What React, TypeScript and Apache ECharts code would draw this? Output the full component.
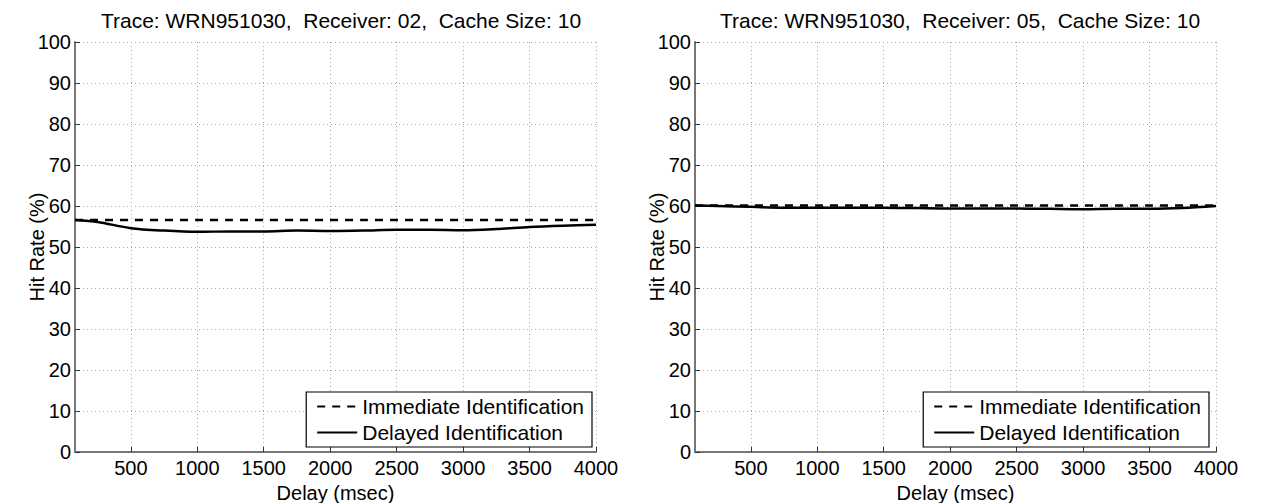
import React, { useEffect, useRef } from "react";
import * as echarts from "echarts";

const delays = [80, 250, 500, 750, 1000, 1250, 1500, 1750, 2000, 2250, 2500, 2750, 3000, 3250, 3500, 3750, 4000];
const immediate02 = [56.6, 56.6, 56.6, 56.6, 56.6, 56.6, 56.6, 56.6, 56.6, 56.6, 56.6, 56.6, 56.6, 56.6, 56.6, 56.6, 56.6];
const delayed02 = [56.6, 56.1, 54.6, 54.0, 53.7, 53.8, 53.8, 54.0, 53.9, 54.0, 54.2, 54.2, 54.1, 54.4, 54.9, 55.2, 55.4];
const immediate05 = [60.1, 60.1, 60.1, 60.1, 60.1, 60.1, 60.1, 60.1, 60.1, 60.1, 60.1, 60.1, 60.1, 60.1, 60.1, 60.1, 60.1];
const delayed05 = [60.1, 60.0, 59.8, 59.6, 59.6, 59.6, 59.6, 59.5, 59.4, 59.4, 59.4, 59.3, 59.2, 59.3, 59.3, 59.5, 60.0];
const titles = [
  "Trace: WRN951030,  Receiver: 02,  Cache Size: 10",
  "Trace: WRN951030,  Receiver: 05,  Cache Size: 10",
];
const seriesNames = ["Immediate Identification", "Delayed Identification"];

const FONT = "'Liberation Sans', Arial, Helvetica, sans-serif";
const FS = 20;
const FS_BIG = 21;

export default function App() {
  const ref = useRef<HTMLDivElement>(null);
  useEffect(() => {
    if (!ref.current) return;
    const chart = echarts.init(ref.current, undefined, { renderer: "svg" });
    const grids = [
      { left: 75, right: 1263 - 596, top: 42, bottom: 51, outerBoundsMode: "none", containLabel: false },
      { left: 695, right: 1263 - 1216, top: 42, bottom: 51, outerBoundsMode: "none", containLabel: false },
    ];
    const pair = (a: number[]) => delays.map((d, i) => [d, a[i]]);
    const xAxes = grids.map((_, i) => ({
      type: "value",
      gridIndex: i,
      min: 80,
      max: 4000,
      splitNumber: 8,
      minInterval: 500,
      maxInterval: 500,
      name: "Delay (msec)",
      nameLocation: "middle",
      nameGap: 31,
      nameMoveOverlap: false,
      nameTextStyle: { fontFamily: FONT, fontSize: FS, color: "#000" },
      axisLine: { show: true, lineStyle: { color: "#777", width: 2 } },
      axisTick: { show: true, inside: true, length: 5, lineStyle: { color: "#333" } },
      axisLabel: {
        showMinLabel: false,
        fontFamily: FONT,
        fontSize: FS,
        color: "#000",
        margin: 6,
        formatter: (v: number) => String(v),
      },
      splitLine: { show: true, lineStyle: { color: "#aaa", type: [1, 3], width: 1 } },
    }));
    const yAxes = grids.map((_, i) => ({
      type: "value",
      gridIndex: i,
      min: 0,
      max: 100,
      interval: 10,
      name: "Hit Rate (%)",
      nameLocation: "middle",
      nameGap: 28,
      nameMoveOverlap: false,
      nameTextStyle: { fontFamily: FONT, fontSize: FS, color: "#000" },
      axisLine: { show: true, lineStyle: { color: "#777", width: 2 } },
      axisTick: { show: true, inside: true, length: 5, lineStyle: { color: "#333" } },
      axisLabel: { fontFamily: FONT, fontSize: FS, color: "#000", margin: 4 },
      splitLine: { show: true, lineStyle: { color: "#aaa", type: [1, 3], width: 1 } },
    }));
    const mk = (name: string, idx: number, data: number[], dashed: boolean) => ({
      type: "line",
      name,
      xAxisIndex: idx,
      yAxisIndex: idx,
      data: pair(data),
      showSymbol: false,
      symbol: "none",
      smooth: 0.3,
      lineStyle: { color: "#000", width: 2.5, type: dashed ? [8, 7] : "solid" },
      itemStyle: { color: "#000" },
      z: dashed ? 3 : 2,
    });
    const legendBase = {
      orient: "vertical",
      bottom: 56,
      itemWidth: 40,
      itemHeight: 14,
      itemGap: 5,
      padding: [4, 8, 4, 10],
      borderColor: "#000",
      borderWidth: 1.2,
      borderRadius: 0,
      backgroundColor: "#fff",
      textStyle: { fontFamily: FONT, fontSize: FS_BIG, color: "#000" },
      itemStyle: { color: "transparent", borderColor: "transparent", borderWidth: 0 },
      data: seriesNames,
      selectedMode: false,
    };
    chart.setOption({
      animation: false,
      backgroundColor: "#fff",
      title: titles.map((t, i) => ({
        text: t,
        left: i === 0 ? 336 : 955,
        textAlign: "center",
        top: 5,
        textStyle: { fontFamily: FONT, fontSize: FS_BIG, fontWeight: "normal", color: "#000" },
      })),
      grid: grids,
      xAxis: xAxes,
      yAxis: yAxes,
      legend: [
        { ...legendBase, right: 1263 - 592 },
        { ...legendBase, right: 1263 - 1209 },
      ],
      series: [
        mk(seriesNames[0], 0, immediate02, true),
        mk(seriesNames[1], 0, delayed02, false),
        mk(seriesNames[0], 1, immediate05, true),
        mk(seriesNames[1], 1, delayed05, false),
      ],
    });
    return () => chart.dispose();
  }, []);
  return (
    <div
      ref={ref}
      style={{ position: "fixed", left: 0, top: 0, width: 1263, height: 503, background: "#fff" }}
    />
  );
}
